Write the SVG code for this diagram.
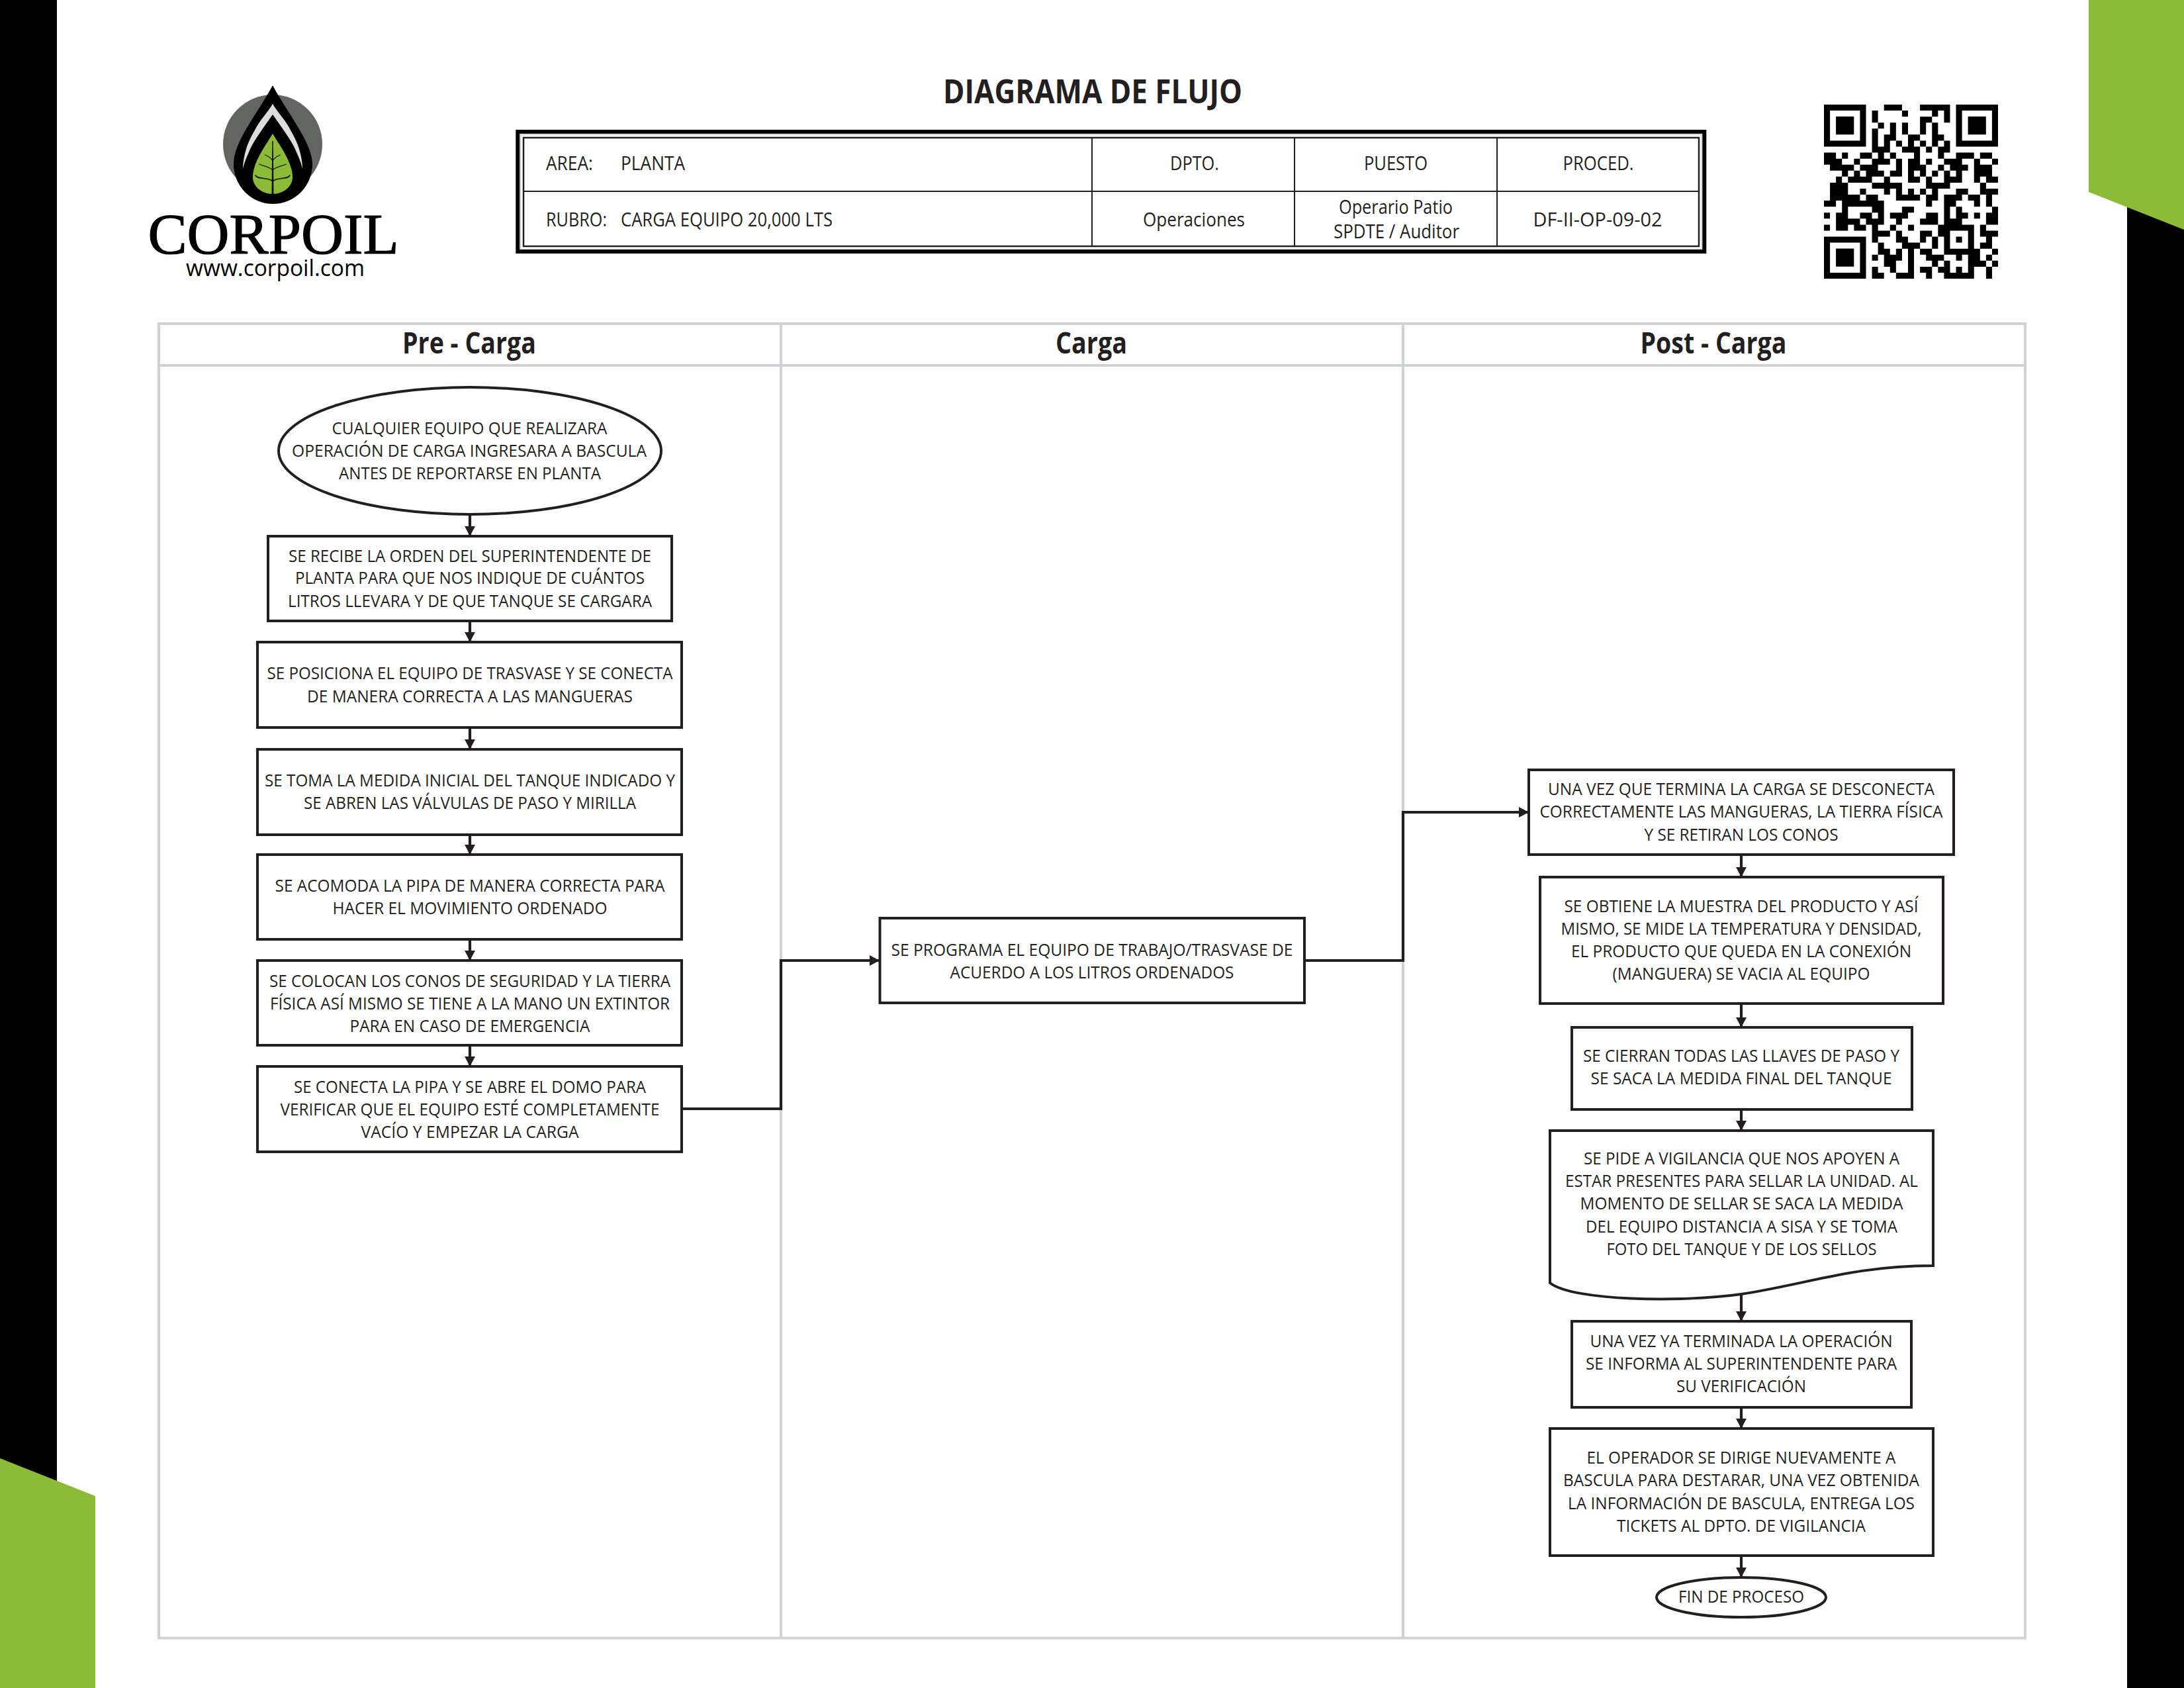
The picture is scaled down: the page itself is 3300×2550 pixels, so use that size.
<svg xmlns="http://www.w3.org/2000/svg" width="3300" height="2550" viewBox="0 0 3300 2550">
<style>
text{font-family:"Open Sans","Liberation Sans",sans-serif;fill:#231f20;font-size:26px;text-anchor:middle}
.n{fill:#fff;stroke:#231f20;stroke-width:4}
.c{fill:none;stroke:#231f20;stroke-width:4.200;marker-end:url(#ah)}
.p{fill:none;stroke:#d1d2d6;stroke-width:4}
.g{fill:#8cbb38}
.h{font-weight:700;font-size:44px}
.t{font-size:30px}
.l{text-anchor:start}
.v{fill:none;stroke:#111;stroke-linecap:round}
</style>
<defs>
<marker id="ah" markerUnits="userSpaceOnUse" markerWidth="16" markerHeight="16" refX="15" refY="8" orient="auto" viewBox="0 0 16 16"><path d="M0,0 L15,8 L0,16 Z" fill="#231f20"/></marker>
</defs>
<rect width="3300" height="2550" fill="#fff"/>
<g id="background">
<rect x="0" y="0" width="86" height="2240" fill="#000"/>
<rect x="3214" y="300" width="86" height="2250" fill="#000"/>
<path class="g" d="M0,2203 L144,2260 V2550 H0 Z"/>
<path class="g" d="M3156,0 H3300 V347 L3156,290 Z"/>
</g>
<g id="logo">
<circle cx="412" cy="218" r="75" fill="#636563"/>
<path d="M412,129 C398,155 380,180 368,202 C358,220 353,235 353,248 A59.500,60 0 0 0 472,248 C472,235 466,220 456,202 C444,180 426,155 412,129 Z" fill="#000"/>
<path d="M412,157 C404,170 396,178 388.600,190 C380,205 375,215 372,225 C369,235 367,245 367,255 C369,247 372,238 376,230 C381,217 391,203 400,190 L412,173 L424,190 C433,203 443,217 448,230 C452,238 455,247 457,255 C457,245 455,235 452,225 C449,215 444,205 435.400,190 C428,178 420,170 412,157 Z" fill="#dcdedd"/>
<path class="g" d="M412,202 C400,222 382,245 382,268 C382,282 396,293 412,293 C428,293 442,282 442,268 C442,245 424,222 412,202 Z"/>
<path d="M411.300,213 L412.700,213 L413.500,293 L410.500,293 Z" fill="#111"/>
<path class="v" stroke-width="1.200" d="M400.500,234 C405,236 410,239 412,243 C414,239 419,236 423.500,234"/>
<path class="v" stroke-width="1.200" d="M391.500,248 C398,251 408,252 412,257 C416,252 426,251 432.500,248"/>
<path class="v" stroke-width="1.600" d="M386,265 C390,272 406,267 412,274 C418,267 434,272 438,265"/>
<text x="413" y="383" textLength="379" lengthAdjust="spacingAndGlyphs" style="font-family:'Liberation Serif',serif;font-size:86px;fill:#000;stroke:#000;stroke-width:1.200">CORPOIL</text>
<text x="416" y="417" textLength="270" lengthAdjust="spacingAndGlyphs" style="font-size:35px;fill:#000">www.corpoil.com</text>
</g>
<path id="qr" fill="#000" d="M2756,158h63.500v9.100h-63.500zM2756,158h9.100v63.500h-9.100zM2756,212.400h63.500v9.100h-63.500zM2810.400,158h9.100v63.500h-9.100zM2774.100,176.100h27.200v27.200h-27.200z
M2955.500,158h63.500v9.100h-63.500zM2955.500,158h9.100v63.500h-9.100zM2955.500,212.400h63.500v9.100h-63.500zM3009.900,158h9.100v63.500h-9.100zM2973.600,176.100h27.200v27.200h-27.200z
M2756,357.500h63.500v9.100h-63.500zM2756,357.500h9.100v63.500h-9.100zM2756,411.900h63.500v9.100h-63.500zM2810.400,357.500h9.100v63.500h-9.100zM2774.100,375.600h27.200v27.200h-27.200z"/>
<path id="qrData" fill="#000" transform="translate(2756 158) scale(9.07)" d="
M10,0h3v1h-3zM16,0h5v1h-5z
M8,1h1v1h-1zM13,1h1v1h-1zM18,1h1v1h-1zM20,1h1v1h-1z
M8,2h1v1h-1zM16,2h2v1h-2zM20,2h1v1h-1z
M9,3h1v1h-1zM11,3h1v1h-1zM13,3h1v1h-1zM16,3h1v1h-1zM18,3h1v1h-1z
M8,4h1v1h-1zM11,4h1v1h-1zM13,4h1v1h-1zM16,4h1v1h-1zM18,4h1v1h-1z
M8,5h1v1h-1zM10,5h2v1h-2zM14,5h2v1h-2zM18,5h2v1h-2z
M8,6h1v1h-1zM10,6h1v1h-1zM12,6h1v1h-1zM14,6h1v1h-1zM16,6h1v1h-1zM18,6h1v1h-1zM20,6h1v1h-1z
M8,7h3v1h-3zM13,7h3v1h-3zM17,7h1v1h-1zM19,7h2v1h-2z
M0,8h2v1h-2zM3,8h1v1h-1zM6,8h2v1h-2zM9,8h1v1h-1zM11,8h1v1h-1zM15,8h1v1h-1zM19,8h1v1h-1zM22,8h3v1h-3zM26,8h2v1h-2z
M0,9h3v1h-3zM5,9h1v1h-1zM8,9h3v1h-3zM12,9h1v1h-1zM14,9h2v1h-2zM17,9h1v1h-1zM20,9h3v1h-3zM25,9h1v1h-1zM28,9h1v1h-1z
M1,10h4v1h-4zM6,10h3v1h-3zM12,10h1v1h-1zM14,10h3v1h-3zM19,10h1v1h-1zM21,10h3v1h-3zM25,10h3v1h-3z
M3,11h1v1h-1zM5,11h1v1h-1zM7,11h3v1h-3zM11,11h2v1h-2zM14,11h1v1h-1zM16,11h1v1h-1zM18,11h1v1h-1zM20,11h1v1h-1zM22,11h1v1h-1zM25,11h3v1h-3z
M2,12h1v1h-1zM4,12h4v1h-4zM10,12h1v1h-1zM14,12h2v1h-2zM17,12h1v1h-1zM20,12h3v1h-3zM25,12h1v1h-1zM27,12h2v1h-2z
M1,13h3v1h-3zM8,13h5v1h-5zM17,13h4v1h-4zM26,13h1v1h-1z
M1,14h3v1h-3zM6,14h1v1h-1zM10,14h1v1h-1zM12,14h1v1h-1zM14,14h1v1h-1zM16,14h1v1h-1zM18,14h1v1h-1zM22,14h2v1h-2zM26,14h3v1h-3z
M1,15h5v1h-5zM7,15h2v1h-2zM12,15h4v1h-4zM17,15h2v1h-2zM20,15h3v1h-3zM24,15h2v1h-2zM27,15h1v1h-1z
M0,16h2v1h-2zM3,16h7v1h-7zM17,16h1v1h-1zM20,16h2v1h-2zM25,16h1v1h-1zM27,16h1v1h-1z
M3,17h1v1h-1zM8,17h2v1h-2zM13,17h2v1h-2zM20,17h1v1h-1zM22,17h1v1h-1zM28,17h1v1h-1z
M0,18h1v1h-1zM2,18h2v1h-2zM6,18h2v1h-2zM9,18h1v1h-1zM11,18h3v1h-3zM17,18h2v1h-2zM20,18h1v1h-1zM22,18h2v1h-2zM25,18h1v1h-1zM27,18h2v1h-2z
M2,19h4v1h-4zM7,19h3v1h-3zM12,19h1v1h-1zM16,19h3v1h-3zM20,19h3v1h-3zM27,19h2v1h-2z
M0,20h1v1h-1zM2,20h2v1h-2zM5,20h2v1h-2zM8,20h1v1h-1zM11,20h1v1h-1zM14,20h1v1h-1zM19,20h6v1h-6zM26,20h1v1h-1z
M8,21h3v1h-3zM12,21h1v1h-1zM16,21h2v1h-2zM19,21h2v1h-2zM24,21h1v1h-1zM26,21h3v1h-3z
M8,22h1v1h-1zM12,22h2v1h-2zM16,22h1v1h-1zM18,22h1v1h-1zM20,22h1v1h-1zM22,22h1v1h-1zM24,22h1v1h-1zM27,22h1v1h-1z
M9,23h1v1h-1zM13,23h3v1h-3zM18,23h1v1h-1zM20,23h1v1h-1zM24,23h1v1h-1zM26,23h2v1h-2z
M9,24h2v1h-2zM12,24h1v1h-1zM14,24h1v1h-1zM16,24h2v1h-2zM20,24h6v1h-6zM28,24h1v1h-1z
M8,25h1v1h-1zM10,25h3v1h-3zM14,25h1v1h-1zM17,25h3v1h-3zM22,25h1v1h-1zM24,25h2v1h-2zM27,25h1v1h-1z
M10,26h2v1h-2zM14,26h1v1h-1zM18,26h1v1h-1zM20,26h1v1h-1zM24,26h3v1h-3zM28,26h1v1h-1z
M8,27h1v1h-1zM11,27h1v1h-1zM14,27h1v1h-1zM16,27h2v1h-2zM19,27h2v1h-2zM22,27h1v1h-1zM24,27h1v1h-1zM27,27h1v1h-1z
M8,28h2v1h-2zM12,28h3v1h-3zM17,28h1v1h-1zM20,28h5v1h-5zM27,28h1v1h-1z"/>
<g id="title"><text x="1651" y="156" textLength="452" lengthAdjust="spacingAndGlyphs" style="font-size:50px;font-weight:700">DIAGRAMA DE FLUJO</text></g>
<g id="header-table">
<rect x="782.300" y="199" width="1793" height="181" fill="none" stroke="#000" stroke-width="6"/>
<rect x="786.500" y="203.500" width="1784.500" height="173" fill="none" stroke="#c4c4c6" stroke-width="1.200"/>
<rect x="791" y="208" width="1776" height="164" fill="none" stroke="#231f20" stroke-width="2.500"/>
<path d="M791,289H2567M1650,208V372M1956,208V372M2262,208V372" fill="none" stroke="#231f20" stroke-width="2"/>
<text class="t l" x="825" y="257" textLength="71" lengthAdjust="spacingAndGlyphs">AREA:</text>
<text class="t l" x="938" y="257" textLength="97" lengthAdjust="spacingAndGlyphs">PLANTA</text>
<text class="t l" x="825" y="342" textLength="92" lengthAdjust="spacingAndGlyphs">RUBRO:</text>
<text class="t l" x="938" y="342" textLength="320" lengthAdjust="spacingAndGlyphs">CARGA EQUIPO 20,000 LTS</text>
<text class="t" x="1805" y="257" textLength="74" lengthAdjust="spacingAndGlyphs">DPTO.</text>
<text class="t" x="2109" y="257" textLength="96" lengthAdjust="spacingAndGlyphs">PUESTO</text>
<text class="t" x="2415" y="257" textLength="107" lengthAdjust="spacingAndGlyphs">PROCED.</text>
<text class="t" x="1804" y="342" textLength="154" lengthAdjust="spacingAndGlyphs">Operaciones</text>
<text class="t" x="2109" y="323" textLength="172" lengthAdjust="spacingAndGlyphs">Operario Patio</text>
<text class="t" x="2110" y="360" textLength="190" lengthAdjust="spacingAndGlyphs">SPDTE / Auditor</text>
<text class="t" x="2414" y="342" textLength="195" lengthAdjust="spacingAndGlyphs">DF-II-OP-09-02</text>
</g>
<g id="swimlanes">
<rect class="p" x="240" y="489" width="2820" height="1985.500"/>
<path class="p" d="M240,552H3060M1180,489V2474M2120,489V2474"/>
<text class="h" x="709" y="534" textLength="202" lengthAdjust="spacingAndGlyphs">Pre - Carga</text>
<text class="h" x="1649" y="534" textLength="108" lengthAdjust="spacingAndGlyphs">Carga</text>
<text class="h" x="2589" y="534" textLength="221" lengthAdjust="spacingAndGlyphs">Post - Carga</text>
</g>
<g id="connectors">
<path class="c" d="M710,777V810"/>
<path class="c" d="M710,938V970"/>
<path class="c" d="M710,1099V1132"/>
<path class="c" d="M710,1261V1291"/>
<path class="c" d="M710,1419V1451"/>
<path class="c" d="M710,1579V1611"/>
<path class="c" d="M1030,1675H1180V1451H1329"/>
<path class="c" d="M1971,1451H2120V1227H2310"/>
<path class="c" d="M2631,1291V1325"/>
<path class="c" d="M2631,1516V1552"/>
<path class="c" d="M2631,1676V1708"/>
<path class="c" d="M2631,1956V1996"/>
<path class="c" d="M2631,2126V2158"/>
<path class="c" d="M2631,2350V2383"/>
</g>
<g id="n1"><ellipse class="n" cx="710" cy="681" rx="289" ry="96"/>
<text x="709.500" y="656" textLength="416" lengthAdjust="spacingAndGlyphs">CUALQUIER EQUIPO QUE REALIZARA</text>
<text x="709" y="690" textLength="536" lengthAdjust="spacingAndGlyphs">OPERACIÓN DE CARGA INGRESARA A BASCULA</text>
<text x="710" y="724" textLength="396" lengthAdjust="spacingAndGlyphs">ANTES DE REPORTARSE EN PLANTA</text></g>
<g id="n2"><rect class="n" x="405" y="810" width="610" height="128"/>
<text x="710" y="848.500" textLength="548" lengthAdjust="spacingAndGlyphs">SE RECIBE LA ORDEN DEL SUPERINTENDENTE DE</text>
<text x="710" y="882" textLength="528" lengthAdjust="spacingAndGlyphs">PLANTA PARA QUE NOS INDIQUE DE CUÁNTOS</text>
<text x="710" y="917" textLength="550" lengthAdjust="spacingAndGlyphs">LITROS LLEVARA Y DE QUE TANQUE SE CARGARA</text></g>
<g id="n3"><rect class="n" x="389" y="970" width="641" height="129"/>
<text x="710" y="1026" textLength="613" lengthAdjust="spacingAndGlyphs">SE POSICIONA EL EQUIPO DE TRASVASE Y SE CONECTA</text>
<text x="710" y="1061" textLength="492" lengthAdjust="spacingAndGlyphs">DE MANERA CORRECTA A LAS MANGUERAS</text></g>
<g id="n4"><rect class="n" x="389" y="1132" width="641" height="129"/>
<text x="710" y="1188" textLength="620" lengthAdjust="spacingAndGlyphs">SE TOMA LA MEDIDA INICIAL DEL TANQUE INDICADO Y</text>
<text x="710" y="1222" textLength="502" lengthAdjust="spacingAndGlyphs">SE ABREN LAS VÁLVULAS DE PASO Y MIRILLA</text></g>
<g id="n5"><rect class="n" x="389" y="1291" width="641" height="128"/>
<text x="710" y="1347" textLength="589" lengthAdjust="spacingAndGlyphs">SE ACOMODA LA PIPA DE MANERA CORRECTA PARA</text>
<text x="710" y="1381" textLength="415" lengthAdjust="spacingAndGlyphs">HACER EL MOVIMIENTO ORDENADO</text></g>
<g id="n6"><rect class="n" x="389" y="1451" width="641" height="128"/>
<text x="710" y="1491" textLength="606" lengthAdjust="spacingAndGlyphs">SE COLOCAN LOS CONOS DE SEGURIDAD Y LA TIERRA</text>
<text x="710" y="1525" textLength="604" lengthAdjust="spacingAndGlyphs">FÍSICA ASÍ MISMO SE TIENE A LA MANO UN EXTINTOR</text>
<text x="710" y="1559" textLength="363" lengthAdjust="spacingAndGlyphs">PARA EN CASO DE EMERGENCIA</text></g>
<g id="n7"><rect class="n" x="389" y="1611" width="641" height="129"/>
<text x="710" y="1651" textLength="532" lengthAdjust="spacingAndGlyphs">SE CONECTA LA PIPA Y SE ABRE EL DOMO PARA</text>
<text x="710" y="1685" textLength="573" lengthAdjust="spacingAndGlyphs">VERIFICAR QUE EL EQUIPO ESTÉ COMPLETAMENTE</text>
<text x="710" y="1719" textLength="329" lengthAdjust="spacingAndGlyphs">VACÍO Y EMPEZAR LA CARGA</text></g>
<g id="n8"><rect class="n" x="1329.500" y="1387" width="641.500" height="128"/>
<text x="1650" y="1443.500" textLength="607" lengthAdjust="spacingAndGlyphs">SE PROGRAMA EL EQUIPO DE TRABAJO/TRASVASE DE</text>
<text x="1650" y="1478" textLength="429" lengthAdjust="spacingAndGlyphs">ACUERDO A LOS LITROS ORDENADOS</text></g>
<g id="n9"><rect class="n" x="2310" y="1163" width="642" height="128"/>
<text x="2631" y="1201" textLength="584" lengthAdjust="spacingAndGlyphs">UNA VEZ QUE TERMINA LA CARGA SE DESCONECTA</text>
<text x="2631" y="1235" textLength="609" lengthAdjust="spacingAndGlyphs">CORRECTAMENTE LAS MANGUERAS, LA TIERRA FÍSICA</text>
<text x="2631" y="1270" textLength="293" lengthAdjust="spacingAndGlyphs">Y SE RETIRAN LOS CONOS</text></g>
<g id="n10"><rect class="n" x="2327" y="1325" width="609" height="191"/>
<text x="2631" y="1378" textLength="535" lengthAdjust="spacingAndGlyphs">SE OBTIENE LA MUESTRA DEL PRODUCTO Y ASÍ</text>
<text x="2631" y="1412" textLength="545" lengthAdjust="spacingAndGlyphs">MISMO, SE MIDE LA TEMPERATURA Y DENSIDAD,</text>
<text x="2631" y="1446" textLength="514" lengthAdjust="spacingAndGlyphs">EL PRODUCTO QUE QUEDA EN LA CONEXIÓN</text>
<text x="2631" y="1480" textLength="389" lengthAdjust="spacingAndGlyphs">(MANGUERA) SE VACIA AL EQUIPO</text></g>
<g id="n11"><rect class="n" x="2375" y="1552" width="514" height="124"/>
<text x="2631" y="1604" textLength="478" lengthAdjust="spacingAndGlyphs">SE CIERRAN TODAS LAS LLAVES DE PASO Y</text>
<text x="2631" y="1638" textLength="455" lengthAdjust="spacingAndGlyphs">SE SACA LA MEDIDA FINAL DEL TANQUE</text></g>
<g id="n12"><path class="n" d="M2342,1708H2921V1912C2800,1912 2730,1940 2631,1955C2540,1968 2375,1965 2342,1938Z"/>
<text x="2631.500" y="1759" textLength="477" lengthAdjust="spacingAndGlyphs">SE PIDE A VIGILANCIA QUE NOS APOYEN A</text>
<text x="2631.500" y="1793" textLength="533" lengthAdjust="spacingAndGlyphs">ESTAR PRESENTES PARA SELLAR LA UNIDAD. AL</text>
<text x="2631.500" y="1827" textLength="488" lengthAdjust="spacingAndGlyphs">MOMENTO DE SELLAR SE SACA LA MEDIDA</text>
<text x="2631.500" y="1862" textLength="471" lengthAdjust="spacingAndGlyphs">DEL EQUIPO DISTANCIA A SISA Y SE TOMA</text>
<text x="2631.500" y="1896" textLength="408" lengthAdjust="spacingAndGlyphs">FOTO DEL TANQUE Y DE LOS SELLOS</text></g>
<g id="n13"><rect class="n" x="2375" y="1996" width="513" height="130"/>
<text x="2631" y="2035" textLength="457" lengthAdjust="spacingAndGlyphs">UNA VEZ YA TERMINADA LA OPERACIÓN</text>
<text x="2631" y="2069" textLength="470" lengthAdjust="spacingAndGlyphs">SE INFORMA AL SUPERINTENDENTE PARA</text>
<text x="2631" y="2103" textLength="196" lengthAdjust="spacingAndGlyphs">SU VERIFICACIÓN</text></g>
<g id="n14"><rect class="n" x="2342" y="2158" width="579" height="192"/>
<text x="2631" y="2211" textLength="467" lengthAdjust="spacingAndGlyphs">EL OPERADOR SE DIRIGE NUEVAMENTE A</text>
<text x="2631" y="2245" textLength="538" lengthAdjust="spacingAndGlyphs">BASCULA PARA DESTARAR, UNA VEZ OBTENIDA</text>
<text x="2631" y="2280" textLength="524" lengthAdjust="spacingAndGlyphs">LA INFORMACIÓN DE BASCULA, ENTREGA LOS</text>
<text x="2631" y="2314" textLength="376" lengthAdjust="spacingAndGlyphs">TICKETS AL DPTO. DE VIGILANCIA</text></g>
<g id="n15"><ellipse class="n" cx="2631" cy="2413" rx="128" ry="30"/>
<text x="2631" y="2421" textLength="190" lengthAdjust="spacingAndGlyphs">FIN DE PROCESO</text></g>
</svg>
